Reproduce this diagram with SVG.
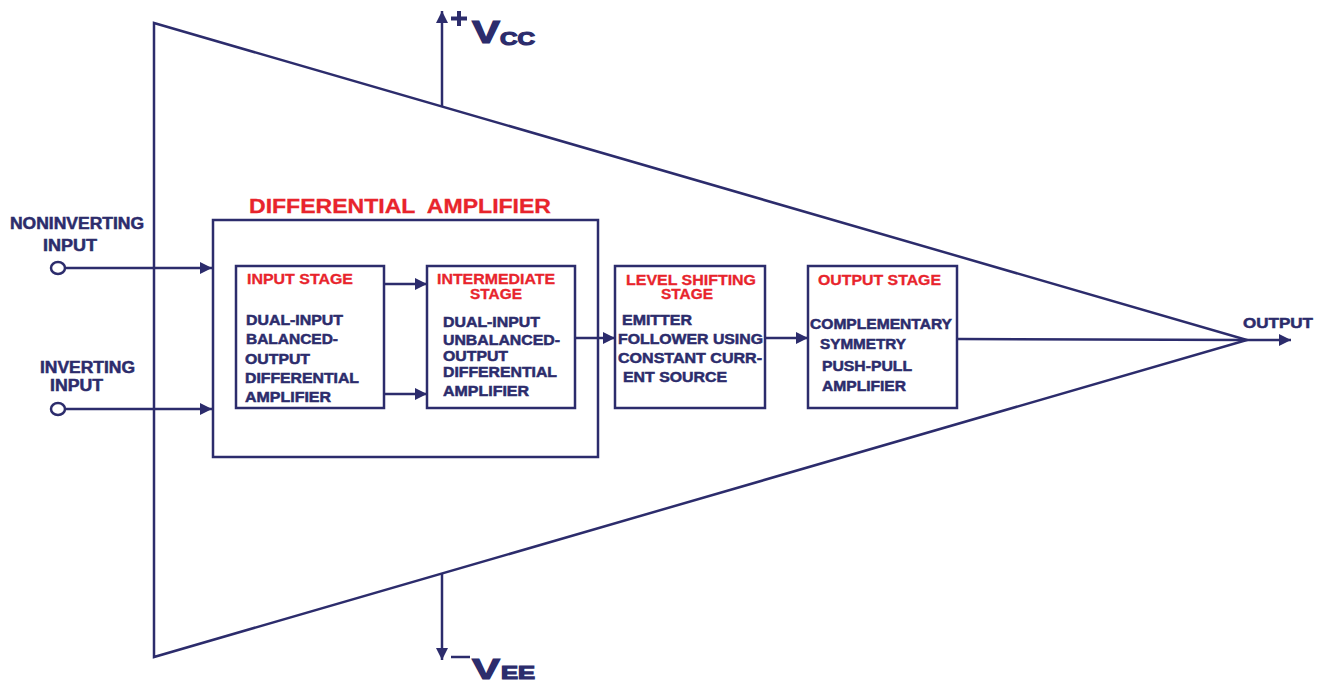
<svg xmlns="http://www.w3.org/2000/svg" width="1328" height="686" viewBox="0 0 1328 686">
<defs>
<style>
.ln{stroke:#2c2c6c;stroke-width:2.5;fill:none}
.bx{stroke:#2c2c6c;stroke-width:2.5;fill:#fff}
.t{font-family:"Liberation Sans",Arial,sans-serif;font-weight:bold;fill:#2c2c6c;stroke:#2c2c6c;stroke-width:0.5}
.r{font-family:"Liberation Sans",Arial,sans-serif;font-weight:bold;fill:#e8242c;stroke:#e8242c;stroke-width:0.3}
.big{stroke-width:1.2}
.s{font-size:14.5px}
.rs{font-size:14px}
</style>
<marker id="ah" viewBox="0 0 10 10" refX="10" refY="5" markerWidth="12" markerHeight="12" markerUnits="userSpaceOnUse" orient="auto">
<path d="M0,0 L10,5 L0,10 z" fill="#2c2c6c"/>
</marker>
</defs>
<rect width="1328" height="686" fill="#fff"/>
<g id="opamp-triangle">
<path class="ln" d="M154,23 L1247,340 L154,657 Z"/>
</g>
<g id="connectors">
<line class="ln" x1="442" y1="106" x2="442" y2="11" marker-end="url(#ah)"/>
<line class="ln" x1="442" y1="574" x2="442" y2="660" marker-end="url(#ah)"/>
<line class="ln" x1="65" y1="268" x2="212" y2="268" marker-end="url(#ah)"/>
<line class="ln" x1="65" y1="409" x2="212" y2="409" marker-end="url(#ah)"/>
<line class="ln" x1="385" y1="284" x2="427" y2="284" marker-end="url(#ah)"/>
<line class="ln" x1="385" y1="394" x2="427" y2="394" marker-end="url(#ah)"/>
<line class="ln" x1="576" y1="338" x2="615" y2="338" marker-end="url(#ah)"/>
<line class="ln" x1="766" y1="338" x2="808" y2="338" marker-end="url(#ah)"/>
<line class="ln" x1="958" y1="339" x2="1247" y2="340"/>
<line class="ln" x1="1247" y1="340" x2="1291" y2="340" marker-end="url(#ah)"/>
</g>
<g id="vcc">
<line x1="459" y1="11" x2="459" y2="26" stroke="#2c2c6c" stroke-width="4"/>
<line x1="451" y1="18.5" x2="467" y2="18.5" stroke="#2c2c6c" stroke-width="4"/>
<text class="t big" x="472" y="43" font-size="31" textLength="28" lengthAdjust="spacingAndGlyphs">V</text>
<text class="t big" x="500" y="45" font-size="18" textLength="35" lengthAdjust="spacingAndGlyphs">CC</text>
</g>
<g id="vee">
<line x1="451" y1="657" x2="470" y2="657" stroke="#2c2c6c" stroke-width="2.5"/>
<text class="t big" x="472" y="679" font-size="30" textLength="28" lengthAdjust="spacingAndGlyphs">V</text>
<text class="t big" x="501" y="679" font-size="18" textLength="34" lengthAdjust="spacingAndGlyphs">EE</text>
</g>
<g id="noninverting-input">
<text class="t" x="10" y="229" font-size="16" textLength="134" lengthAdjust="spacingAndGlyphs">NONINVERTING</text>
<text class="t" x="43" y="251" font-size="16" textLength="54" lengthAdjust="spacingAndGlyphs">INPUT</text>
<ellipse cx="58" cy="268" rx="7" ry="6" class="bx"/>
</g>
<g id="inverting-input">
<text class="t" x="40" y="373" font-size="16" textLength="95" lengthAdjust="spacingAndGlyphs">INVERTING</text>
<text class="t" x="50" y="391" font-size="16" textLength="53" lengthAdjust="spacingAndGlyphs">INPUT</text>
<ellipse cx="58" cy="409" rx="7" ry="6" class="bx"/>
</g>
<g id="differential-amplifier">
<rect class="ln" x="213" y="220" width="385" height="237"/>
<text class="r" x="249" y="213" font-size="20" textLength="302" lengthAdjust="spacingAndGlyphs" xml:space="preserve">DIFFERENTIAL  AMPLIFIER</text>
</g>
<g id="input-stage">
<rect class="bx" x="236" y="266" width="148" height="142"/>
<text class="r rs" x="247" y="284" textLength="106" lengthAdjust="spacingAndGlyphs">INPUT STAGE</text>
<text class="t s" x="246" y="325" textLength="97" lengthAdjust="spacingAndGlyphs">DUAL-INPUT</text>
<text class="t s" x="246" y="344" textLength="92" lengthAdjust="spacingAndGlyphs">BALANCED-</text>
<text class="t s" x="245" y="364" textLength="65" lengthAdjust="spacingAndGlyphs">OUTPUT</text>
<text class="t s" x="245" y="383" textLength="114" lengthAdjust="spacingAndGlyphs">DIFFERENTIAL</text>
<text class="t s" x="245" y="402" textLength="86" lengthAdjust="spacingAndGlyphs">AMPLIFIER</text>
</g>
<g id="intermediate-stage">
<rect class="bx" x="427" y="266" width="148" height="142"/>
<text class="r rs" x="437" y="284" textLength="118" lengthAdjust="spacingAndGlyphs">INTERMEDIATE</text>
<text class="r rs" x="470" y="299" textLength="52" lengthAdjust="spacingAndGlyphs">STAGE</text>
<text class="t s" x="443" y="327" textLength="97" lengthAdjust="spacingAndGlyphs">DUAL-INPUT</text>
<text class="t s" x="443" y="345" textLength="117" lengthAdjust="spacingAndGlyphs">UNBALANCED-</text>
<text class="t s" x="443" y="361" textLength="65" lengthAdjust="spacingAndGlyphs">OUTPUT</text>
<text class="t s" x="443" y="377" textLength="114" lengthAdjust="spacingAndGlyphs">DIFFERENTIAL</text>
<text class="t s" x="443" y="396" textLength="86" lengthAdjust="spacingAndGlyphs">AMPLIFIER</text>
</g>
<g id="level-shifting-stage">
<rect class="bx" x="615" y="266" width="150" height="142"/>
<text class="r rs" x="626" y="285" textLength="130" lengthAdjust="spacingAndGlyphs">LEVEL SHIFTING</text>
<text class="r rs" x="661" y="299" textLength="52" lengthAdjust="spacingAndGlyphs">STAGE</text>
<text class="t s" x="622" y="325" textLength="70" lengthAdjust="spacingAndGlyphs">EMITTER</text>
<text class="t s" x="618" y="344" textLength="145" lengthAdjust="spacingAndGlyphs">FOLLOWER USING</text>
<text class="t s" x="618" y="363" textLength="144" lengthAdjust="spacingAndGlyphs">CONSTANT CURR-</text>
<text class="t s" x="623" y="382" textLength="104" lengthAdjust="spacingAndGlyphs">ENT SOURCE</text>
</g>
<g id="output-stage">
<rect class="bx" x="808" y="266" width="149" height="142"/>
<text class="r rs" x="818" y="285" textLength="123" lengthAdjust="spacingAndGlyphs">OUTPUT STAGE</text>
<text class="t s" x="810" y="329" textLength="142" lengthAdjust="spacingAndGlyphs">COMPLEMENTARY</text>
<text class="t s" x="820" y="349" textLength="86" lengthAdjust="spacingAndGlyphs">SYMMETRY</text>
<text class="t s" x="822" y="371" textLength="90" lengthAdjust="spacingAndGlyphs">PUSH-PULL</text>
<text class="t s" x="822" y="391" textLength="84" lengthAdjust="spacingAndGlyphs">AMPLIFIER</text>
</g>
<g id="output">
<text class="t" x="1243" y="328" font-size="15" textLength="70" lengthAdjust="spacingAndGlyphs">OUTPUT</text>
</g>
</svg>
